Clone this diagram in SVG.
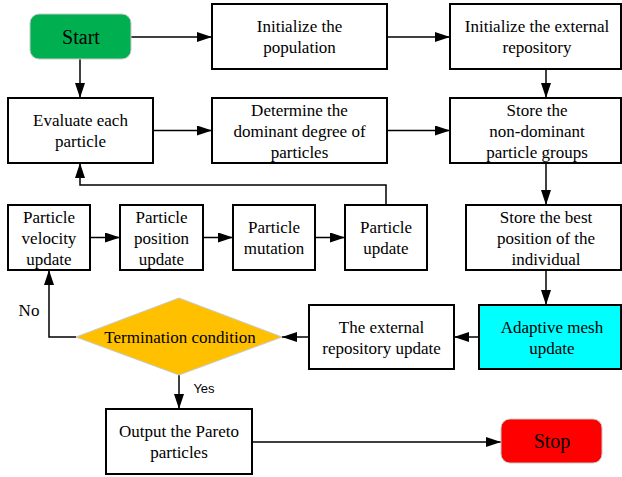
<svg xmlns="http://www.w3.org/2000/svg" width="622" height="477" viewBox="0 0 622 477">
<style>
.box{fill:#fff;stroke:#000;stroke-width:2}
.term{stroke:#c8c8c8;stroke-width:1}
text{font-family:"Liberation Serif","Times New Roman",serif;font-size:17px;fill:#000;text-anchor:middle}
.conn{fill:none;stroke:#000;stroke-width:1.5}
</style>
<defs>
<marker id="arr" markerUnits="userSpaceOnUse" markerWidth="15" markerHeight="10" refX="15" refY="5" orient="auto">
<path d="M0,0 L15,5 L0,10 z" fill="#000"/>
</marker>
</defs>
<rect width="622" height="477" fill="#fff"/>
<g id="connectors">
<path class="conn" marker-end="url(#arr)" d="M131,37 H212"/>
<path class="conn" marker-end="url(#arr)" d="M387,37 H450"/>
<path class="conn" marker-end="url(#arr)" d="M546,69 V98"/>
<path class="conn" marker-end="url(#arr)" d="M80,59 V98"/>
<path class="conn" marker-end="url(#arr)" d="M153,130.5 H212"/>
<path class="conn" marker-end="url(#arr)" d="M387,130.5 H450"/>
<path class="conn" marker-end="url(#arr)" d="M546,163 V205"/>
<path class="conn" marker-end="url(#arr)" d="M386,205 V185 H80 V163"/>
<path class="conn" marker-end="url(#arr)" d="M90,237.5 H120"/>
<path class="conn" marker-end="url(#arr)" d="M203,237.5 H233"/>
<path class="conn" marker-end="url(#arr)" d="M315,237.5 H345"/>
<path class="conn" marker-end="url(#arr)" d="M546,270 V305"/>
<path class="conn" marker-end="url(#arr)" d="M479,337 H454"/>
<path class="conn" marker-end="url(#arr)" d="M309,337 H282"/>
<path class="conn" marker-end="url(#arr)" d="M76,337 H49 V270"/>
<path class="conn" marker-end="url(#arr)" d="M179,375 V409"/>
<path class="conn" marker-end="url(#arr)" d="M252,442 H501"/>
<text x="29" y="316">No</text>
<text x="204" y="393" style="font-family:'Liberation Sans',Arial,sans-serif;font-size:13px">Yes</text>
</g>
<g id="start">
<rect class="term" x="30" y="14" width="101" height="45" rx="9" fill="#00b050"/>
<text x="81" y="44" style="font-size:20px">Start</text>
</g>
<g id="init-pop">
<rect class="box" x="212" y="4" width="175" height="65"/>
<text x="299.5" y="32">Initialize the</text>
<text x="299.5" y="53">population</text>
</g>
<g id="init-ext">
<rect class="box" x="450" y="4" width="171" height="65"/>
<text x="537" y="32">Initialize the external</text>
<text x="537" y="53">repository</text>
</g>
<g id="evaluate">
<rect class="box" x="8" y="98" width="145" height="65"/>
<text x="80.5" y="126">Evaluate each</text>
<text x="80.5" y="147">particle</text>
</g>
<g id="determine">
<rect class="box" x="212" y="98" width="175" height="65"/>
<text x="299.5" y="115.5">Determine the</text>
<text x="299.5" y="136.5">dominant degree of</text>
<text x="299.5" y="157.5">particles</text>
</g>
<g id="store-nondom">
<rect class="box" x="450" y="98" width="171" height="65"/>
<text x="537" y="115.5">Store the</text>
<text x="537" y="136.5">non-dominant</text>
<text x="537" y="157.5">particle groups</text>
</g>
<g id="velocity">
<rect class="box" x="8" y="205" width="82" height="65"/>
<text x="49" y="222.5">Particle</text>
<text x="49" y="243.5">velocity</text>
<text x="49" y="264.5">update</text>
</g>
<g id="position">
<rect class="box" x="120" y="205" width="83" height="65"/>
<text x="161.5" y="222.5">Particle</text>
<text x="161.5" y="243.5">position</text>
<text x="161.5" y="264.5">update</text>
</g>
<g id="mutation">
<rect class="box" x="233" y="205" width="82" height="65"/>
<text x="274" y="233">Particle</text>
<text x="274" y="254">mutation</text>
</g>
<g id="particle-update">
<rect class="box" x="345" y="205" width="82" height="65"/>
<text x="386" y="233">Particle</text>
<text x="386" y="254">update</text>
</g>
<g id="store-best">
<rect class="box" x="466" y="205" width="155" height="65"/>
<text x="546" y="222.5">Store the best</text>
<text x="546" y="243.5">position of the</text>
<text x="546" y="264.5">individual</text>
</g>
<g id="adaptive">
<rect class="box" x="479" y="305" width="142" height="64" style="fill:#00ffff"/>
<text x="552" y="332.5">Adaptive mesh</text>
<text x="552" y="353.5">update</text>
</g>
<g id="ext-update">
<rect class="box" x="309" y="305" width="145" height="64"/>
<text x="381.5" y="332.5">The external</text>
<text x="381.5" y="353.5">repository update</text>
</g>
<g id="termination">
<polygon class="term" points="76,337 179,298 282,337 179,375" fill="#ffc000"/>
<text x="180" y="343">Termination condition</text>
</g>
<g id="output">
<rect class="box" x="106" y="409" width="146" height="65"/>
<text x="179" y="437">Output the Pareto</text>
<text x="179" y="458">particles</text>
</g>
<g id="stop">
<rect class="term" x="501" y="419" width="101" height="44" rx="9" fill="#ff0000"/>
<text x="552" y="448" style="font-size:20px">Stop</text>
</g>
</svg>
